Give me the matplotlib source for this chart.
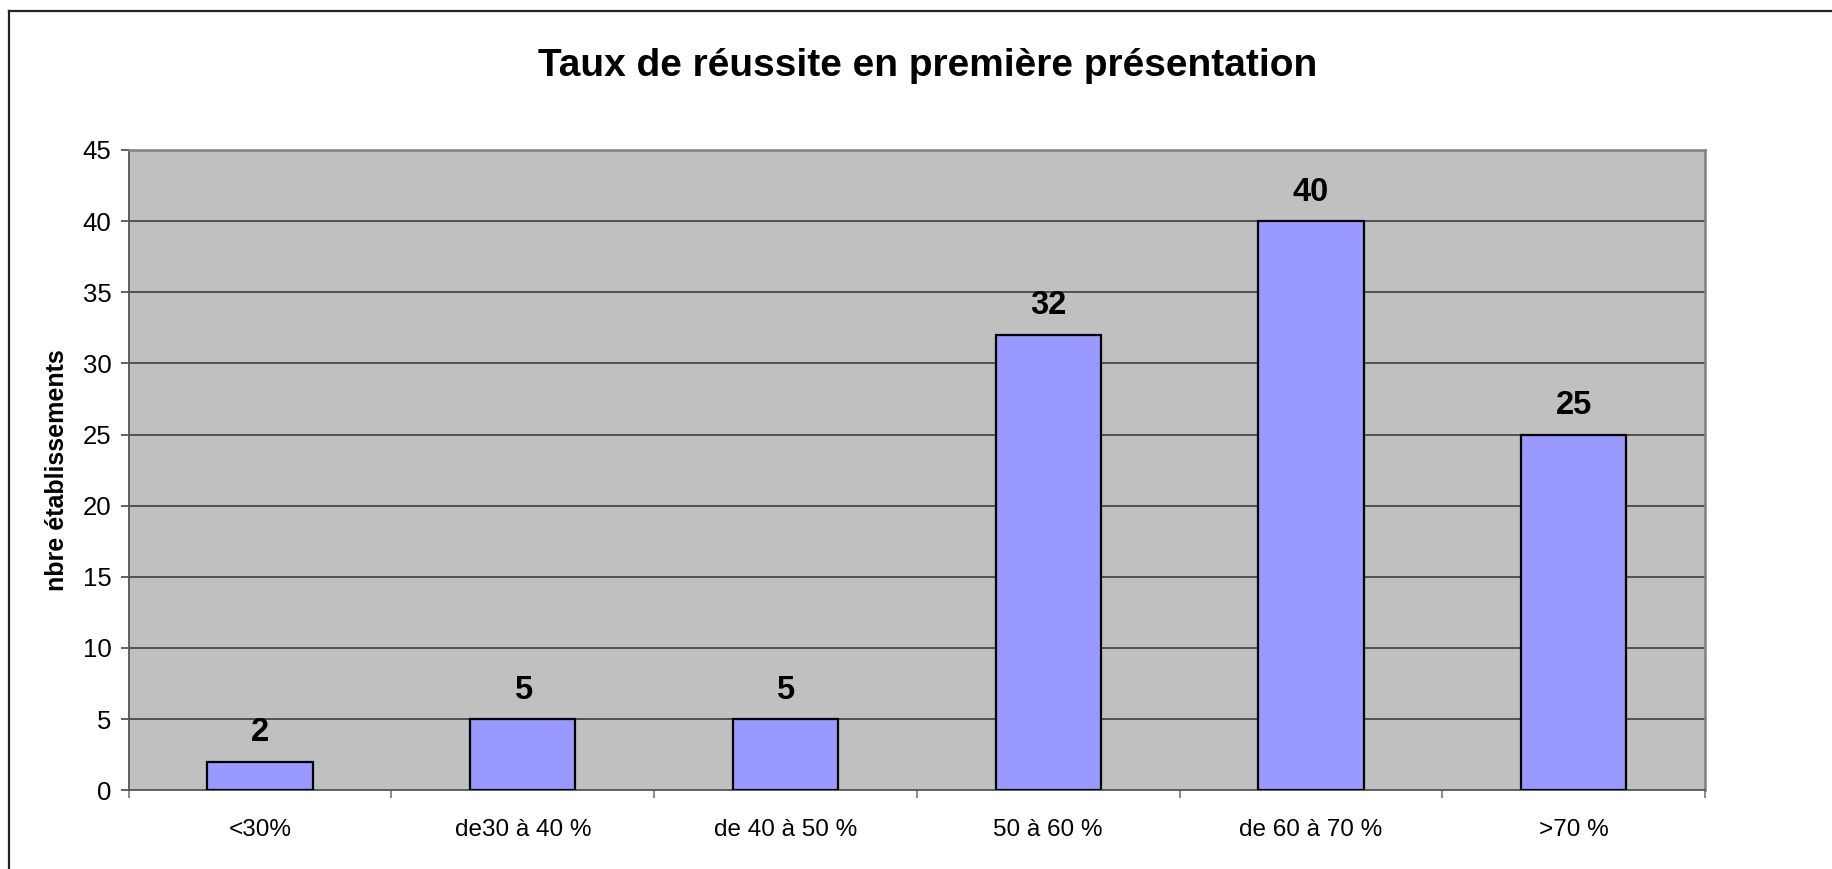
import numpy as np
import matplotlib.pyplot as plt
from matplotlib.lines import Line2D

categories = ["<30%", "de30 à 40 %", "de 40 à 50 %", "50 à 60 %", "de 60 à 70 %", ">70 %"]
values = [2, 5, 5, 32, 40, 25]
yticks = [0, 5, 10, 15, 20, 25, 30, 35, 40, 45]

plt.rcParams['font.family'] = ['Liberation Sans', 'DejaVu Sans']

fig = plt.figure(figsize=(18.33, 8.69), dpi=100)
ax = fig.add_axes([0.0702, 0.0906, 0.86, 0.7368])
ax.set_facecolor("#C0C0C0")

x = np.arange(len(categories))
ax.bar(x, values, width=0.4, color="#9999FF", edgecolor="black", linewidth=1.6, zorder=3)

# gridlines (except the top one, which is the border)
for t in yticks[1:-1]:
    ax.axhline(t, color="#333333", linewidth=1.1, zorder=1)

for xi, v in zip(x, values):
    ax.annotate(str(v), (xi, v), xytext=(0, 14.8), textcoords="offset points",
                ha="center", va="baseline", fontsize=23.5, fontweight="bold", zorder=4)

ax.set_xlim(-0.5, len(categories) - 0.5)
ax.set_ylim(0, 45)
ax.set_yticks(yticks)
ax.set_yticklabels([str(t) for t in yticks], fontsize=18.5)
ax.set_xticks(x)
ax.set_xticklabels(categories, fontsize=17.5)
ax.tick_params(axis="x", length=0, pad=20.5)
ax.set_xticks(np.arange(-0.5, len(categories)), minor=True)
ax.tick_params(axis="x", which="minor", length=6, width=1.3, color="#808080")
ax.tick_params(axis="y", length=5.5, width=1.3, color="#555555", pad=7)

for side in ["top", "right"]:
    ax.spines[side].set_color("#808080")
    ax.spines[side].set_linewidth(1.8)
ax.spines["left"].set_color("#555555")
ax.spines["bottom"].set_color("#555555")
ax.spines["left"].set_linewidth(1.3)
ax.spines["bottom"].set_linewidth(1.3)

ax.set_ylabel("nbre établissements", fontsize=18, fontweight="bold", labelpad=10)

fig.text(0.506, 0.924, "Taux de réussite en première présentation",
         ha="center", va="center", fontsize=28, fontweight="bold")

# outer chart border (left and top visible)
fig.add_artist(Line2D([9 / 1833, 9 / 1833], [0, 1 - 11 / 869], transform=fig.transFigure,
                      color="#222222", linewidth=1.6))
fig.add_artist(Line2D([9 / 1833, 1], [1 - 11 / 869, 1 - 11 / 869], transform=fig.transFigure,
                      color="#222222", linewidth=1.6))

fig.savefig("out.png", dpi=100)
